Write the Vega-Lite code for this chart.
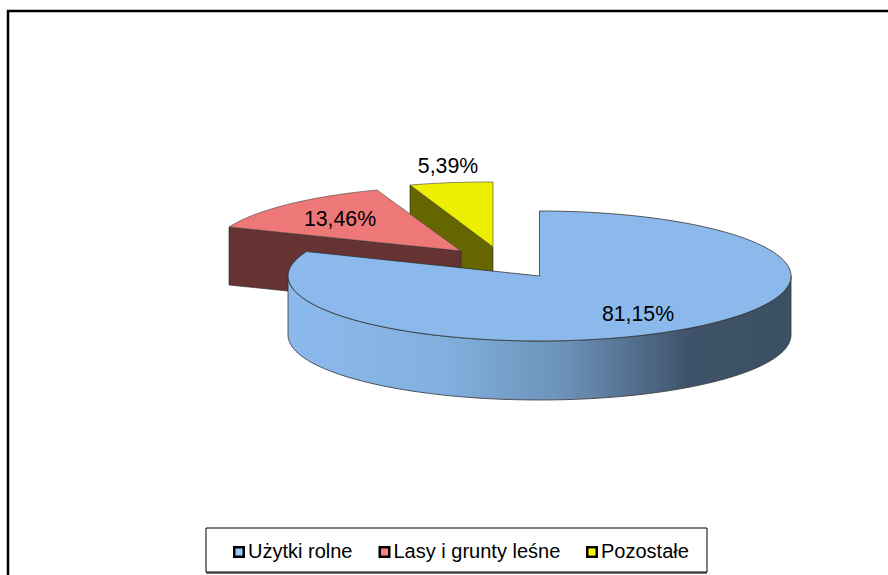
{"$schema":"https://vega.github.io/schema/vega-lite/v6.json","width":888,"height":575,"autosize":"none","padding":0,"background":"white","config":{"view":{"stroke":null},"locale":{"number":{"decimal":",","thousands":" ","grouping":[3],"currency":["","zł"]}},"font":"Liberation Sans"},"data":{"values":[{"name":"Użytki rolne","share":0.8115},{"name":"Lasy i grunty leśne","share":0.1346},{"name":"Pozostałe","share":0.0539}]},"layer":[{"transform":[{"filter":"datum.name==='Pozostałe'"}],"mark":{"type":"point","filled":true,"opacity":1,"size":4,"shape":"M-436,290 L-436,-276.5 L450,-276.5","fillOpacity":0,"stroke":"black","strokeWidth":2.5,"strokeOpacity":1}},{"transform":[{"filter":"datum.name==='Pozostałe'"}],"mark":{"type":"point","filled":true,"opacity":1,"size":4,"shape":"M-34,-102.5 L49,-40.5 L49,17.5 L-34,-44.5 Z","fill":"#666600","stroke":"#222","strokeWidth":0.6}},{"transform":[{"filter":"datum.name==='Pozostałe'"}],"mark":{"type":"point","filled":true,"opacity":1,"size":4,"shape":"M-34,-102.5 A251,65 0 0 1 49,-105.5 L49,-40.5 Z","fill":"#EEEE00","stroke":"#444","strokeWidth":0.6}},{"transform":[{"filter":"datum.name==='Lasy i grunty leśne'"}],"mark":{"type":"point","filled":true,"opacity":1,"size":4,"shape":"M-215,-60.5 L17,-36.5 L17,21.5 L-215,-2.5 Z","fill":"#663333","stroke":"#222","strokeWidth":0.6}},{"transform":[{"filter":"datum.name==='Lasy i grunty leśne'"}],"mark":{"type":"point","filled":true,"opacity":1,"size":4,"shape":"M-215,-60.5 A251,65 0 0 1 -67,-97.5 L17,-36.5 Z","fill":"#EE7777","stroke":"#444","strokeWidth":0.6}},{"transform":[{"filter":"datum.name==='Użytki rolne'"}],"mark":{"type":"point","filled":true,"opacity":1,"size":4,"shape":"M347,-11.5 A251.5,65 0 0 1 -156,-11.5 L-156,47.5 A251.5,65 0 0 0 347,47.5 Z","fill":{"gradient":"linear","x1":0,"y1":0,"x2":1,"y2":0,"stops":[{"offset":0,"color":"#8BB9EC"},{"offset":0.3,"color":"#82B1E0"},{"offset":0.55,"color":"#6C92B8"},{"offset":0.8,"color":"#3E5269"},{"offset":1,"color":"#3C5064"}]},"stroke":"#333","strokeWidth":0.8}},{"transform":[{"filter":"datum.name==='Użytki rolne'"}],"mark":{"type":"point","filled":true,"opacity":1,"size":4,"shape":"M95.5,-11.5 L95.5,-76.5 A251.5,65 0 1 1 -137.4,-36 Z","fill":"#8BB9EC","stroke":"#333","strokeWidth":0.8}},{"transform":[{"filter":"datum.name==='Użytki rolne'"}],"mark":{"type":"text","dx":194,"dy":27,"fontSize":21.3,"font":"Liberation Sans","color":"black"},"encoding":{"text":{"field":"share","type":"quantitative","format":".2%"}}},{"transform":[{"filter":"datum.name==='Lasy i grunty leśne'"}],"mark":{"type":"text","dx":-104,"dy":-68,"fontSize":21.3,"font":"Liberation Sans","color":"black"},"encoding":{"text":{"field":"share","type":"quantitative","format":".2%"}}},{"transform":[{"filter":"datum.name==='Pozostałe'"}],"mark":{"type":"text","dx":4,"dy":-120.5,"fontSize":21.3,"font":"Liberation Sans","color":"black"},"encoding":{"text":{"field":"share","type":"quantitative","format":".2%"}}},{"transform":[{"filter":"datum.name==='Pozostałe'"}],"mark":{"type":"point","filled":true,"opacity":1,"size":4,"shape":"M-238,285.5 L263,285.5","fillOpacity":0,"stroke":"#777","strokeWidth":2,"strokeOpacity":1}},{"transform":[{"filter":"datum.name==='Pozostałe'"}],"mark":{"type":"point","filled":true,"opacity":1,"size":4,"shape":"M-238,240.5 L263,240.5 L263,284.5 L-238,284.5 Z","fill":"white","stroke":"black","strokeWidth":1}},{"mark":{"type":"point","filled":true,"size":0},"encoding":{"color":{"field":"name","type":"nominal","sort":["Użytki rolne","Lasy i grunty leśne","Pozostałe"],"scale":{"domain":["Użytki rolne","Lasy i grunty leśne","Pozostałe"],"range":["#99CCFF","#FF8080","#FFFF00"]},"legend":{"title":null,"orient":"none","legendX":229,"legendY":542,"direction":"horizontal","columns":3,"padding":0,"columnPadding":21.5,"symbolType":"square","symbolSize":90,"symbolStrokeColor":"black","symbolStrokeWidth":2.5,"symbolOpacity":1,"labelFont":"Liberation Sans","labelFontSize":20,"labelColor":"black","labelOffset":-1,"labelLimit":300}}}}]}
